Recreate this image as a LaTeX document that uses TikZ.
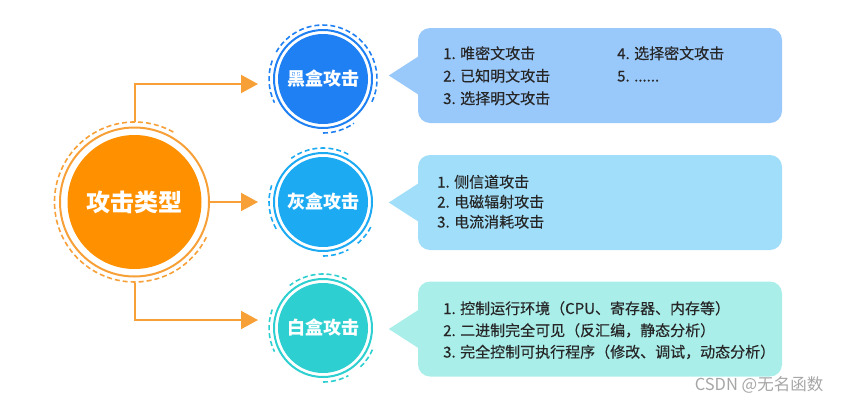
\documentclass[tikz,border=0pt]{standalone}
\usepackage{fontspec}
\setmainfont{Noto Sans CJK SC}
\newfontfamily\itemfont{Noto Sans CJK SC}[FakeBold=0.35]
\usetikzlibrary{arrows.meta}
\definecolor{orfill}{HTML}{FF9100}
\definecolor{orline}{HTML}{F7A038}
\definecolor{blkfill}{HTML}{1E80F3}
\definecolor{gryfill}{HTML}{1CAAF2}
\definecolor{whtfill}{HTML}{2DCFD0}
\definecolor{blkbox}{HTML}{99C8FA}
\definecolor{grybox}{HTML}{A0DEFA}
\definecolor{whtbox}{HTML}{AAEEEA}
\definecolor{txt}{HTML}{262626}
\definecolor{wm}{HTML}{A6A6A6}
\begin{document}
\begin{tikzpicture}[x=1pt,y=-1pt,
  conn/.style={draw=orline, line width=2pt, -{Triangle[length=17pt,width=18pt]}},
  kind/.style={circle, minimum size=98pt, inner sep=0pt, draw=#1, line width=2pt,
    path picture={\fill[#1] (path picture bounding box.center) circle (45pt);},
    text=white, font=\bfseries\fontsize{18}{18}\selectfont},
  dashring/.style={draw=#1, line width=1.6pt, dash pattern=on 5pt off 3pt},
  callbox/.style={rectangle, rounded corners=12pt, minimum width=364pt, minimum height=95pt, fill=#1, inner sep=0pt},
  item/.style={anchor=base west, inner sep=0pt, text=txt, font=\itemfont\fontsize{15}{15}\selectfont}
]
\useasboundingbox (0,0) rectangle (846,402);

% central node
\node (types) at (134.5,202) [circle, minimum size=149pt, inner sep=0pt, draw=orline, line width=2pt,
  path picture={\fill[orfill] (path picture bounding box.center) circle (67pt);},
  text=white, font=\bfseries\fontsize{24}{24}\selectfont] {攻击类型};
\draw[dashring=orline] ([shift={(61:80pt)}]types.center) arc[start angle=61, end angle=335, radius=80pt];

% three kinds
\node (black) at (323,79) [kind=blkfill] {黑盒攻击};
\node (gray) at (323,202) [kind=gryfill] {灰盒攻击};
\node (white) at (323,328) [kind=whtfill] {白盒攻击};

\foreach \a/\b in {-25/150,160/206,-90/-55}
  \draw[dashring=blkfill] ([shift={(\a:54pt)}]black.center) arc[start angle=\a, end angle=\b, radius=54pt];
\foreach \a/\b in {62/126,162/210,-50/-26,-90/-62}
  \draw[dashring=gryfill] ([shift={(\a:54pt)}]gray.center) arc[start angle=\a, end angle=\b, radius=54pt];
\foreach \a/\b in {64/128,160/206,-46/-22,-90/-62}
  \draw[dashring=whtfill] ([shift={(\a:54pt)}]white.center) arc[start angle=\a, end angle=\b, radius=54pt];

% connectors
\draw[conn, shorten >=15pt] ([yshift=5pt]types.north) |- ([yshift=-5pt]black.west);
\draw[conn, shorten >=15pt] (types.east) -- (gray.west);
\draw[conn, shorten >=15pt] ([yshift=-5pt]types.south) |- ([yshift=8pt]white.west);

% callouts
\node (blackinfo) at (600,75.5) [callbox=blkbox] {};
\node (grayinfo) at (600,202.5) [callbox=grybox] {};
\node (whiteinfo) at (600,329) [callbox=whtbox] {};
\fill[blkbox] ([shift={(2pt,20pt)}]blackinfo.west) -- ([xshift=-29pt]blackinfo.west) -- ([shift={(2pt,-20pt)}]blackinfo.west) -- cycle;
\fill[grybox] ([shift={(2pt,20pt)}]grayinfo.west) -- ([xshift=-29pt]grayinfo.west) -- ([shift={(2pt,-20pt)}]grayinfo.west) -- cycle;
\fill[whtbox] ([shift={(2pt,20pt)}]whiteinfo.west) -- ([xshift=-29pt]whiteinfo.west) -- ([shift={(2pt,-20pt)}]whiteinfo.west) -- cycle;

% texts
\node[item] (b1) at (443,59) {1. 唯密文攻击};
\node[item] (b2) at (443,81.5) {2. 已知明文攻击};
\node[item] (b3) at (443,104) {3. 选择明文攻击};
\node[item] (b4) at (617,59) {4. 选择密文攻击};
\node[item] (b5) at (617,81.5) {5. ......};

\node[item] (g1) at (437,187.5) {1. 侧信道攻击};
\node[item] (g2) at (437,207.5) {2. 电磁辐射攻击};
\node[item] (g3) at (437,227.5) {3. 电流消耗攻击};

\node[item] (w1) at (443,314) {1. 控制运行环境（CPU、寄存器、内存等）};
\node[item] (w2) at (443,336) {2. 二进制完全可见（反汇编，静态分析）};
\node[item] (w3) at (443,357.5) {3. 完全控制可执行程序（修改、调试，动态分析）};

\node (mark) at (759,385) [text=wm, inner sep=0pt, font=\fontsize{16.5}{16.5}\selectfont] {CSDN @无名函数};
\end{tikzpicture}
\end{document}
